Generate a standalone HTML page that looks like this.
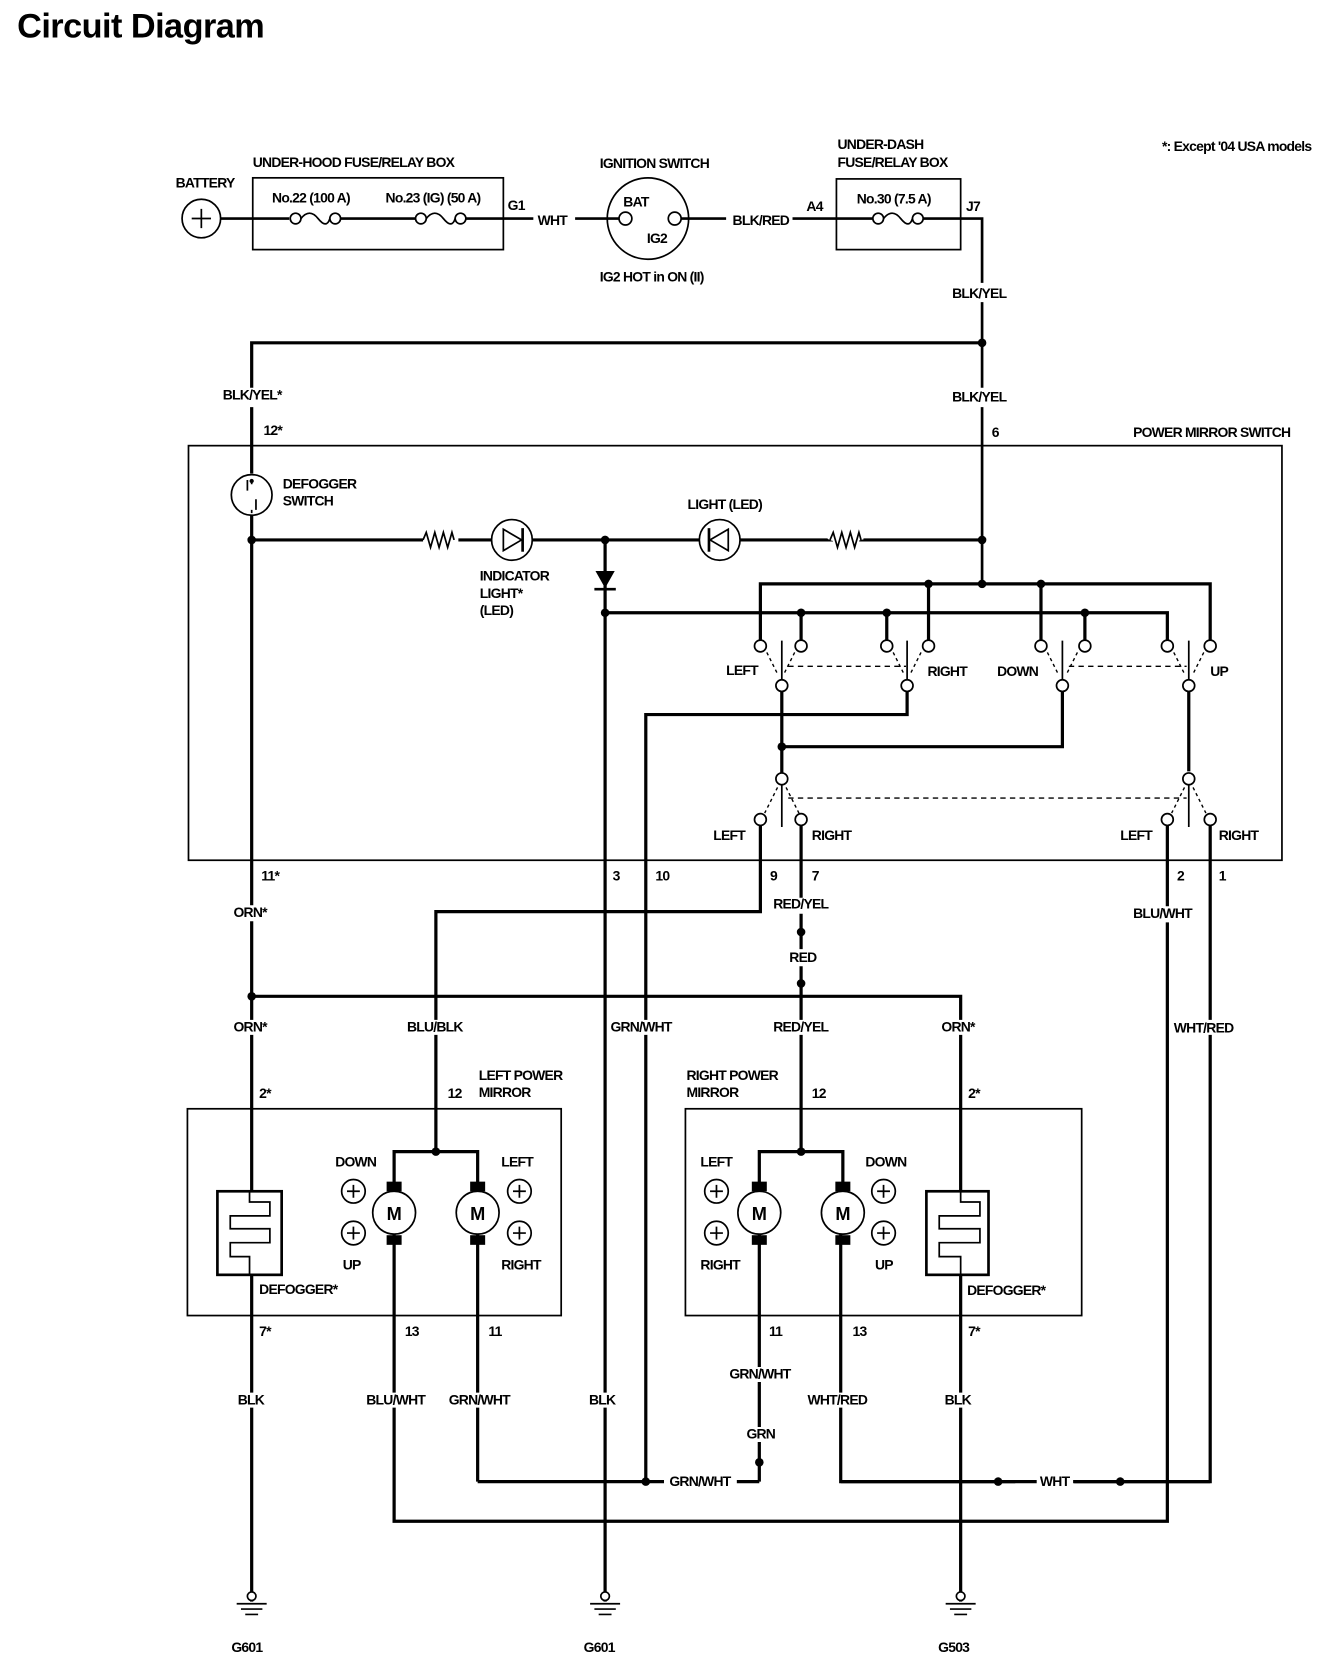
<!DOCTYPE html>
<html><head><meta charset="utf-8"><style>
html,body{margin:0;padding:0;background:#fff}
svg{display:block}
text{font-family:"Liberation Sans",sans-serif;font-weight:bold;font-size:13px;letter-spacing:-0.7px;fill:#000}
.w{stroke:#000;stroke-width:3;fill:none}
.n{stroke:#000;stroke-width:1.6;fill:none}
.c{stroke:#000;stroke-width:1.6;fill:#fff}
.d{stroke:#000;stroke-width:1.3;fill:none;stroke-dasharray:5 4}
</style></head><body>
<svg width="1328" height="1668" viewBox="0 0 1240 1557" preserveAspectRatio="none" xmlns="http://www.w3.org/2000/svg">
<text x="16" y="35" style="font-size:32px;letter-spacing:-0.5px">Circuit Diagram</text>
<text x="1085" y="141">*: Except '04 USA models</text>

<!-- top row -->
<circle cx="188" cy="204" r="18" class="n"/>
<path d="M179 204h18M188 195v18" class="n"/>
<text x="164" y="175">BATTERY</text>
<path d="M206 204H270M318 204H388M434 204H498" class="w" style="stroke-width:2.5"/>
<rect x="236" y="166" width="234" height="67" class="n"/>
<text x="236" y="156">UNDER-HOOD FUSE/RELAY BOX</text>
<text x="254" y="189">No.22 (100 A)</text>
<text x="360" y="189">No.23 (IG) (50 A)</text>
<circle cx="276" cy="204" r="5" class="c"/><circle cx="313" cy="204" r="5" class="c"/>
<path d="M281 204q8-10 16 0t11 0" class="n"/>
<circle cx="393" cy="204" r="5" class="c"/><circle cx="430" cy="204" r="5" class="c"/>
<path d="M398 204q8-10 16 0t11 0" class="n"/>
<text x="474" y="196">G1</text>
<text x="502" y="210">WHT</text>
<path d="M537 204H578M636 204H678" class="w" style="stroke-width:2.5"/>
<circle cx="605" cy="204" r="38" class="n"/>
<circle cx="584" cy="204" r="6" class="c"/><circle cx="630" cy="204" r="6" class="c"/>
<text x="560" y="157">IGNITION SWITCH</text>
<text x="582" y="193">BAT</text>
<text x="604" y="227">IG2</text>
<text x="560" y="263">IG2 HOT in ON (II)</text>
<text x="684" y="210">BLK/RED</text>
<text x="753" y="197">A4</text>
<path d="M740 204H815M862 204H917V545" class="w" style="stroke-width:2.5"/>
<rect x="781" y="167" width="116" height="66" class="n"/>
<text x="782" y="139">UNDER-DASH</text>
<text x="782" y="156">FUSE/RELAY BOX</text>
<text x="800" y="190">No.30 (7.5 A)</text>
<circle cx="820" cy="204" r="5" class="c"/><circle cx="857" cy="204" r="5" class="c"/>
<path d="M825 204q8-10 16 0t11 0" class="n"/>
<text x="902" y="197">J7</text>
<path d="M235 442V320H917" class="w"/>
<circle cx="917" cy="320" r="4"/>
<g style="stroke:#fff;stroke-width:14">
<path d="M917 264V282M917 362V380M235 362V380"/>
</g>
<text x="889" y="278">BLK/YEL</text>
<text x="208" y="373">BLK/YEL*</text>
<text x="246" y="406">12*</text>
<text x="889" y="375">BLK/YEL</text>
<text x="926" y="408">6</text>

<!-- switch box -->
<rect x="176" y="416" width="1021" height="387" class="n"/>
<text x="1058" y="408">POWER MIRROR SWITCH</text>
<circle cx="235" cy="462" r="19" class="n"/>
<path d="M231 448v10M239 466v10M235 452v-4M235 476v3" class="n"/>
<circle cx="235" cy="449" r="2"/>
<text x="264" y="456">DEFOGGER</text>
<text x="264" y="472">SWITCH</text>
<path d="M235 481V1495" class="w"/>
<path d="M235 504H395M428 504H917" class="w"/>
<path d="M395 504l3-7 4 14 4-14 4 14 4-14 4 14 4-14 2 7" class="n"/>
<path d="M775 504l3-7 4 14 4-14 4 14 4-14 4 14 4-14 2 7" class="n" style="stroke:#fff;stroke-width:5"/>
<path d="M775 504l3-7 4 14 4-14 4 14 4-14 4 14 4-14 2 7" class="n"/>
<circle cx="478" cy="504" r="19" class="c"/>
<path d="M470 494v20l17-10z" class="c"/><path d="M488 493v22" class="w" style="stroke-width:2.5"/>
<circle cx="672" cy="504" r="19" class="c"/>
<path d="M680 494v20l-17-10z" class="c"/><path d="M662 493v22" class="w" style="stroke-width:2.5"/>
<text x="448" y="542">INDICATOR</text>
<text x="448" y="558">LIGHT*</text>
<text x="448" y="574">(LED)</text>
<text x="642" y="475">LIGHT (LED)</text>
<circle cx="235" cy="504" r="4"/><circle cx="565" cy="504" r="4"/><circle cx="917" cy="504" r="4"/>
<path d="M565 504V1495" class="w"/>
<path d="M556 533h18l-9 16z"/><path d="M555 550h20" class="w" style="stroke-width:2.5"/>
<!-- bus lines -->
<path d="M710 598V545H1130V598M867 545V598M972 545V598" class="w"/>
<path d="M565 572H1090V598M748 572V598M828 572V598M1013 572V598" class="w"/>
<g fill="#000"><circle cx="917" cy="545" r="4"/><circle cx="867" cy="545" r="4"/><circle cx="972" cy="545" r="4"/>
<circle cx="565" cy="572" r="4"/><circle cx="748" cy="572" r="4"/><circle cx="828" cy="572" r="4"/><circle cx="1013" cy="572" r="4"/></g>
<!-- upper contacts -->
<g>
<path d="M730 598V635M847 598V635M992 598V635M1110 598V635" class="n"/>
<path d="M716 609l10 20M742 609l-10 20M834 609l10 20M860 609l-10 20M978 609l10 20M1006 609l-10 20M1096 609l10 20M1124 609l-10 20" class="d" style="stroke-dasharray:3 3"/>
<path d="M736 622H846M998 622H1108" class="d"/>
<path d="M730 645V727M847 645V667H603V1383M992 645V697H730M1110 645V720" class="w"/>
<circle cx="730" cy="697" r="4"/>
<circle cx="710" cy="603" r="5.5" class="c"/><circle cx="748" cy="603" r="5.5" class="c"/>
<circle cx="828" cy="603" r="5.5" class="c"/><circle cx="867" cy="603" r="5.5" class="c"/>
<circle cx="972" cy="603" r="5.5" class="c"/><circle cx="1013" cy="603" r="5.5" class="c"/>
<circle cx="1090" cy="603" r="5.5" class="c"/><circle cx="1130" cy="603" r="5.5" class="c"/>
<circle cx="730" cy="640" r="5.5" class="c"/><circle cx="847" cy="640" r="5.5" class="c"/>
<circle cx="992" cy="640" r="5.5" class="c"/><circle cx="1110" cy="640" r="5.5" class="c"/>
</g>
<text x="678" y="630">LEFT</text><text x="866" y="631">RIGHT</text><text x="931" y="631">DOWN</text><text x="1130" y="631">UP</text>
<!-- lower contacts -->
<path d="M730 732V772M1110 732V772" class="n"/>
<path d="M726 735l-12 24M734 735l12 24M1106 735l-12 24M1114 735l12 24" class="d" style="stroke-dasharray:3 3"/>
<path d="M736 745H1108" class="d"/>
<path d="M710 770V851H407V1075M748 770V1075M1090 770V1420H368V1150M1130 770V1383H785V1150" class="w"/>
<circle cx="730" cy="727" r="5.5" class="c"/><circle cx="1110" cy="727" r="5.5" class="c"/>
<circle cx="710" cy="765" r="5.5" class="c"/><circle cx="748" cy="765" r="5.5" class="c"/>
<circle cx="1090" cy="765" r="5.5" class="c"/><circle cx="1130" cy="765" r="5.5" class="c"/>
<text x="666" y="784">LEFT</text><text x="758" y="784">RIGHT</text><text x="1046" y="784">LEFT</text><text x="1138" y="784">RIGHT</text>

<text x="244" y="822">11*</text><text x="572" y="822">3</text><text x="612" y="822">10</text>
<text x="719" y="822">9</text><text x="758" y="822">7</text><text x="1099" y="822">2</text><text x="1138" y="822">1</text>
<circle cx="748" cy="870" r="4"/><circle cx="748" cy="918" r="4"/>
<path d="M235 930H897V1495" class="w"/>
<circle cx="235" cy="930" r="4"/>
<g style="stroke:#fff;stroke-width:14">
<path d="M235 845V860M748 838V853M1090 846V861M748 886V902M235 952V966M407 952V966M603 952V966M748 952V966M897 952V966M1130 952V966"/>
</g>
<text x="218" y="856">ORN*</text><text x="722" y="848">RED/YEL</text><text x="1058" y="857">BLU/WHT</text>
<text x="737" y="898">RED</text>
<text x="218" y="963">ORN*</text><text x="380" y="963">BLU/BLK</text><text x="570" y="963">GRN/WHT</text>
<text x="722" y="963">RED/YEL</text><text x="879" y="963">ORN*</text><text x="1096" y="964">WHT/RED</text>

<!-- mirrors -->
<rect x="175" y="1035" width="349" height="193" class="n"/>
<rect x="640" y="1035" width="370" height="193" class="n"/>
<text x="447" y="1008">LEFT POWER</text><text x="447" y="1024">MIRROR</text>
<text x="641" y="1008">RIGHT POWER</text><text x="641" y="1024">MIRROR</text>
<text x="242" y="1025">2*</text><text x="418" y="1025">12</text><text x="758" y="1025">12</text><text x="904" y="1025">2*</text>
<path d="M368 1115V1075H446V1115M709 1115V1075H787V1115M446 1150V1383M709 1150V1383" class="w"/>
<circle cx="407" cy="1075" r="4"/><circle cx="748" cy="1075" r="4"/>
<g>
<rect x="361" y="1103" width="14" height="9"/><rect x="361" y="1153" width="14" height="9"/>
<rect x="439" y="1103" width="14" height="9"/><rect x="439" y="1153" width="14" height="9"/>
<rect x="702" y="1103" width="14" height="9"/><rect x="702" y="1153" width="14" height="9"/>
<rect x="780" y="1103" width="14" height="9"/><rect x="780" y="1153" width="14" height="9"/>
</g>
<g class="c"><circle cx="368" cy="1132" r="20"/><circle cx="446" cy="1132" r="20"/><circle cx="709" cy="1132" r="20"/><circle cx="787" cy="1132" r="20"/></g>
<text x="361" y="1139" style="font-size:17px">M</text><text x="439" y="1139" style="font-size:17px">M</text>
<text x="702" y="1139" style="font-size:17px">M</text><text x="780" y="1139" style="font-size:17px">M</text>
<g class="n">
<circle cx="330" cy="1112" r="11"/><circle cx="330" cy="1151" r="11"/><circle cx="485" cy="1112" r="11"/><circle cx="485" cy="1151" r="11"/>
<circle cx="669" cy="1112" r="11"/><circle cx="669" cy="1151" r="11"/><circle cx="825" cy="1112" r="11"/><circle cx="825" cy="1151" r="11"/>
<path d="M324 1112h12M330 1106v12M324 1151h12M330 1145v12M479 1112h12M485 1106v12M479 1151h12M485 1145v12M663 1112h12M669 1106v12M663 1151h12M669 1145v12M819 1112h12M825 1106v12M819 1151h12M825 1145v12"/>
</g>
<text x="313" y="1089">DOWN</text><text x="468" y="1089">LEFT</text><text x="320" y="1185">UP</text><text x="468" y="1185">RIGHT</text>
<text x="654" y="1089">LEFT</text><text x="808" y="1089">DOWN</text><text x="654" y="1185">RIGHT</text><text x="817" y="1185">UP</text>
<!-- defoggers -->
<rect x="203" y="1112" width="60" height="78" class="w" style="fill:#fff;stroke-width:2.5"/>
<path d="M233 1112V1122H252V1135H215V1147H252V1160H215V1173H233V1190" class="n"/>
<rect x="865" y="1112" width="58" height="78" class="w" style="fill:#fff;stroke-width:2.5"/>
<path d="M897 1112V1122H915V1135H877V1147H915V1160H877V1173H897V1190" class="n"/>
<text x="242" y="1208">DEFOGGER*</text><text x="903" y="1209">DEFOGGER*</text>
<text x="242" y="1247">7*</text><text x="378" y="1247">13</text><text x="456" y="1247">11</text>
<text x="718" y="1247">11</text><text x="796" y="1247">13</text><text x="904" y="1247">7*</text>
<g style="stroke:#fff;stroke-width:14">
<path d="M235 1300V1314M368 1300V1314M446 1300V1314M565 1300V1314M709 1276V1290M709 1332V1346M785 1300V1314M897 1300V1314M620 1383H688M948 1383H1003"/>
</g>
<path d="M446 1383H620M688 1383H709" class="w"/>
<path d="M785 1383H968M1002 1383H1130" class="w"/>
<circle cx="603" cy="1383" r="4"/><circle cx="709" cy="1365" r="4"/><circle cx="932" cy="1383" r="4"/><circle cx="1046" cy="1383" r="4"/>
<text x="222" y="1311">BLK</text><text x="342" y="1311">BLU/WHT</text><text x="419" y="1311">GRN/WHT</text><text x="550" y="1311">BLK</text>
<text x="681" y="1287">GRN/WHT</text><text x="697" y="1343">GRN</text><text x="754" y="1311">WHT/RED</text><text x="882" y="1311">BLK</text>
<text x="625" y="1387">GRN/WHT</text><text x="971" y="1387">WHT</text>
<!-- grounds -->
<g class="n">
<circle cx="235" cy="1490" r="4" style="fill:#fff"/><path d="M221 1497h28M225 1502h20M229 1507h12"/>
<circle cx="565" cy="1490" r="4" style="fill:#fff"/><path d="M551 1497h28M555 1502h20M559 1507h12"/>
<circle cx="897" cy="1490" r="4" style="fill:#fff"/><path d="M883 1497h28M887 1502h20M891 1507h12"/>
</g>
<text x="216" y="1542">G601</text><text x="545" y="1542">G601</text><text x="876" y="1542">G503</text>
</svg>
</body></html>
